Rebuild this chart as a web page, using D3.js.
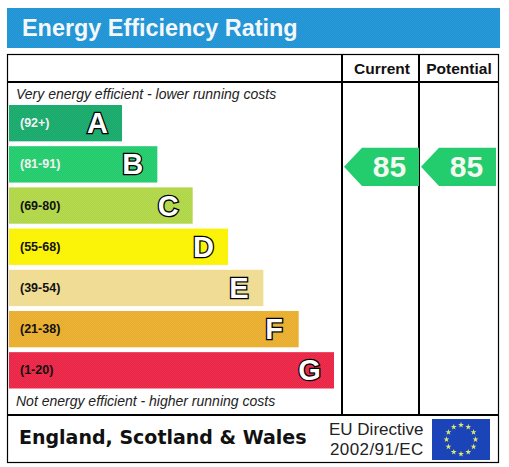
<!DOCTYPE html>
<html>
<head>
<meta charset="utf-8">
<title>Energy Efficiency Rating</title>
<script src="https://cdn.jsdelivr.net/npm/d3@7"></script>
<style>
    html, body { margin: 0; padding: 0; background: #fff; }
    svg { display: block; }
    text { font-family: "Liberation Sans", Arial, sans-serif; }
</style>
</head>
<body>
<div id="chart"></div>
<script>
var letters = ['A', 'B', 'C', 'D', 'E', 'F', 'G'];
var ranges = ['(92+)', '(81-91)', '(69-80)', '(55-68)', '(39-54)', '(21-38)', '(1-20)'];
var lowerBounds = [92, 81, 69, 55, 39, 21, 1];
var bandColors = ['#15a96a', '#20cb6b', '#b0d646', '#fbf200', '#efdc90', '#e9ad2c', '#ea2344'];
var rangeColors = ['#f2f2f2', '#f2f2f2', '#111', '#111', '#111', '#111', '#111'];
var columns = ['Current', 'Potential'];
var scores = [85, 85];

var width = 509, height = 467;
var svg = d3.select('#chart').append('svg')
    .attr('width', width)
    .attr('height', height);

// faint dither, the original is a low quality gif
var defs = svg.append('defs');
var dither = defs.append('pattern')
    .attr('id', 'dither')
    .attr('width', 2).attr('height', 2)
    .attr('patternUnits', 'userSpaceOnUse');
dither.append('rect').attr('width', 1).attr('height', 1).attr('fill', '#fff').attr('fill-opacity', 0.07);
dither.append('rect').attr('x', 1).attr('y', 1).attr('width', 1).attr('height', 1).attr('fill', '#fff').attr('fill-opacity', 0.07);

// title band
svg.append('rect').attr('x', 7).attr('y', 8).attr('width', 493).attr('height', 40).attr('fill', '#1d92d5');
svg.append('rect').attr('x', 7).attr('y', 8).attr('width', 493).attr('height', 40).attr('fill', 'url(#dither)');
svg.append('text').attr('x', 22).attr('y', 36)
    .attr('font-size', 23.4).attr('font-weight', 700).attr('fill', '#f4f8fb')
    .text('Energy Efficiency Rating');

// scales
var y = d3.scaleBand().domain(letters).range([105, 388.5]).paddingInner(0.118).paddingOuter(0);
var barEnd = d3.scaleLinear().domain([0, letters.length - 1]).range([122, 334]);
var barLeft = 9;

function bandOf(score) {
    return letters[lowerBounds.findIndex(function (b) { return score >= b; })];
}

// frame
var frame = svg.append('g').attr('stroke', '#000').attr('fill', 'none');
frame.append('rect').attr('x', 7.5).attr('y', 54.5).attr('width', 491).attr('height', 408).attr('stroke-width', 1.2);
frame.append('line').attr('x1', 7).attr('x2', 499).attr('y1', 82).attr('y2', 82).attr('stroke-width', 2);
frame.append('line').attr('x1', 7).attr('x2', 499).attr('y1', 415).attr('y2', 415).attr('stroke-width', 2);
var colX = d3.scaleOrdinal().domain(columns).range([342, 419]);
frame.selectAll('line.col').data(columns).enter().append('line')
    .attr('class', 'col')
    .attr('x1', function (d) { return colX(d); })
    .attr('x2', function (d) { return colX(d); })
    .attr('y1', 54).attr('y2', 415).attr('stroke-width', 2);

svg.selectAll('text.col').data(columns).enter().append('text')
    .attr('class', 'col')
    .attr('x', function (d) { return colX(d) + 40; })
    .attr('y', 74)
    .attr('text-anchor', 'middle')
    .attr('font-size', 15.5).attr('font-weight', 700).attr('fill', '#111')
    .text(function (d) { return d; });

// captions
svg.append('text').attr('x', 16).attr('y', 99)
    .attr('font-size', 14).attr('font-style', 'italic').attr('fill', '#222')
    .text('Very energy efficient - lower running costs');
svg.append('text').attr('x', 16).attr('y', 406)
    .attr('font-size', 14).attr('font-style', 'italic').attr('fill', '#222')
    .text('Not energy efficient - higher running costs');

// bars
var bars = svg.selectAll('g.band').data(letters).enter().append('g').attr('class', 'band');
bars.selectAll('rect').data(function (d, i) {
    return [{ i: i, d: d, fill: bandColors[i] }, { i: i, d: d, fill: 'url(#dither)' }];
}).enter().append('rect')
    .attr('x', barLeft)
    .attr('y', function (o) { return y(o.d); })
    .attr('width', function (o) { return barEnd(o.i) - barLeft; })
    .attr('height', y.bandwidth())
    .attr('fill', function (o) { return o.fill; });
bars.append('text')
    .attr('x', 20)
    .attr('y', function (d) { return y(d) + y.bandwidth() / 2 + 4; })
    .attr('font-size', 12.5).attr('font-weight', 700)
    .attr('fill', function (d, i) { return rangeColors[i]; })
    .text(function (d, i) { return ranges[i]; });
bars.append('text')
    .attr('x', function (d, i) { return barEnd(i) - 24.5; })
    .attr('y', function (d) { return y(d) + y.bandwidth() / 2 + 10; })
    .attr('text-anchor', 'middle')
    .attr('font-size', 29).attr('font-weight', 700)
    .attr('fill', '#fff').attr('stroke', '#000').attr('stroke-width', 2.6)
    .style('paint-order', 'stroke')
    .text(function (d) { return d; });

// score arrows
var arrows = svg.selectAll('g.score').data(scores).enter().append('g').attr('class', 'score');
arrows.append('path')
    .attr('d', function (d, i) {
        var x0 = colX(columns[i]);
        var top = y(bandOf(d)) + 1.5, h = y.bandwidth() + 2;
        return d3.line()([[x0 + 2, top + h / 2], [x0 + 20, top], [x0 + 77, top], [x0 + 77, top + h], [x0 + 20, top + h]]) + 'Z';
    })
    .attr('fill', '#23cd6e');
arrows.append('text')
    .attr('x', function (d, i) { return colX(columns[i]) + 47.5; })
    .attr('y', function (d) { return y(bandOf(d)) + y.bandwidth() / 2 + 12.5; })
    .attr('text-anchor', 'middle')
    .attr('font-size', 30).attr('font-weight', 700).attr('fill', '#f4f8f0')
    .text(function (d) { return d; });

// footer
svg.append('text').attr('x', 19).attr('y', 444)
    .attr('font-size', 19).attr('font-weight', 700).attr('fill', '#111')
    .style('font-family', '"DejaVu Sans", Verdana, sans-serif')
    .text('England, Scotland & Wales');
svg.append('text').attr('x', 329).attr('y', 435)
    .attr('font-size', 17).attr('fill', '#222').text('EU Directive');
svg.append('text').attr('x', 330).attr('y', 455)
    .attr('font-size', 17).attr('letter-spacing', 0.4).attr('fill', '#222').text('2002/91/EC');

// EU flag
var flag = svg.append('g').attr('transform', 'translate(432,419)');
flag.append('rect').attr('width', 58).attr('height', 41).attr('fill', '#1a44b8');
var star = d3.symbol().type(d3.symbolStar).size(11);
flag.selectAll('path').data(d3.range(12)).enter().append('path')
    .attr('d', star)
    .attr('fill', '#dfe86a')
    .attr('transform', function (d) {
        var a = d / 12 * 2 * Math.PI;
        return 'translate(' + (29 + 14.5 * Math.sin(a)) + ',' + (20.5 - 14.5 * Math.cos(a)) + ')';
    });
</script>
</body>
</html>
